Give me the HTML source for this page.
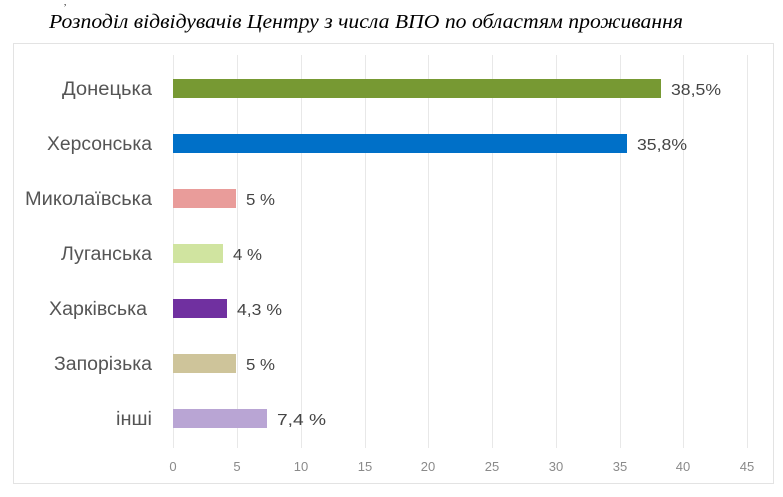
<!DOCTYPE html>
<html><head><meta charset="utf-8"><style>
body{margin:0;background:#fff;width:783px;height:497px;overflow:hidden;position:relative;font-family:"Liberation Sans","DejaVu Sans",sans-serif}
</style></head><body>
<svg width="783" height="497" style="position:absolute;left:0;top:0">
<text x="64" y="5" font-size="9" fill="#000" font-family="Liberation Serif,serif">,</text>
<text x="49" y="28" font-size="20" font-style="italic" font-family="Liberation Serif,serif" fill="#000" textLength="634" lengthAdjust="spacingAndGlyphs">Розподіл відвідувачів Центру з числа ВПО по областям проживання</text>
<rect x="13.5" y="43.5" width="760" height="440" fill="#fff" stroke="#e3e3e3"/>
<g stroke="#e8e8e8" stroke-width="1">
<line x1="173.5" y1="55" x2="173.5" y2="448"/><line x1="237.5" y1="55" x2="237.5" y2="448"/><line x1="301.5" y1="55" x2="301.5" y2="448"/><line x1="365.5" y1="55" x2="365.5" y2="448"/><line x1="428.5" y1="55" x2="428.5" y2="448"/><line x1="492.5" y1="55" x2="492.5" y2="448"/><line x1="556.5" y1="55" x2="556.5" y2="448"/><line x1="620.5" y1="55" x2="620.5" y2="448"/><line x1="683.5" y1="55" x2="683.5" y2="448"/><line x1="747.5" y1="55" x2="747.5" y2="448"/>
</g>
<g font-size="13" fill="#8a8a8a" text-anchor="middle">
<text x="173" y="471">0</text><text x="237" y="471">5</text><text x="301" y="471">10</text><text x="365" y="471">15</text><text x="428" y="471">20</text><text x="492" y="471">25</text><text x="556" y="471">30</text><text x="620" y="471">35</text><text x="683" y="471">40</text><text x="747" y="471">45</text>
</g>
<rect x="173" y="79" width="488" height="19" fill="#779933"/>
<rect x="173" y="134" width="454" height="19" fill="#0070c8"/>
<rect x="173" y="189" width="63" height="19" fill="#e99c9a"/>
<rect x="173" y="244" width="50" height="19" fill="#d0e4a0"/>
<rect x="173" y="299" width="54" height="19" fill="#7030a0"/>
<rect x="173" y="354" width="63" height="19" fill="#cec49a"/>
<rect x="173" y="409" width="94" height="19" fill="#b9a5d4"/>
<g font-size="19" fill="#555" lengthAdjust="spacingAndGlyphs">
<text x="62" y="95" textLength="90" lengthAdjust="spacingAndGlyphs">Донецька</text>
<text x="47" y="150" textLength="105" lengthAdjust="spacingAndGlyphs">Херсонська</text>
<text x="25" y="205" textLength="127" lengthAdjust="spacingAndGlyphs">Миколаївська</text>
<text x="61" y="260" textLength="91" lengthAdjust="spacingAndGlyphs">Луганська</text>
<text x="49" y="315" textLength="98" lengthAdjust="spacingAndGlyphs">Харківська</text>
<text x="54" y="370" textLength="98" lengthAdjust="spacingAndGlyphs">Запорізька</text>
<text x="116" y="425" textLength="36" lengthAdjust="spacingAndGlyphs">інші</text>
</g>
<g font-size="16" fill="#444">
<text x="671" y="95" textLength="50" lengthAdjust="spacingAndGlyphs">38,5%</text>
<text x="637" y="150" textLength="50" lengthAdjust="spacingAndGlyphs">35,8%</text>
<text x="246" y="205" textLength="29" lengthAdjust="spacingAndGlyphs">5 %</text>
<text x="233" y="260" textLength="29" lengthAdjust="spacingAndGlyphs">4 %</text>
<text x="237" y="315" textLength="45" lengthAdjust="spacingAndGlyphs">4,3 %</text>
<text x="246" y="370" textLength="29" lengthAdjust="spacingAndGlyphs">5 %</text>
<text x="277" y="425" textLength="49" lengthAdjust="spacingAndGlyphs">7,4  %</text>
</g>
</svg>
</body></html>
